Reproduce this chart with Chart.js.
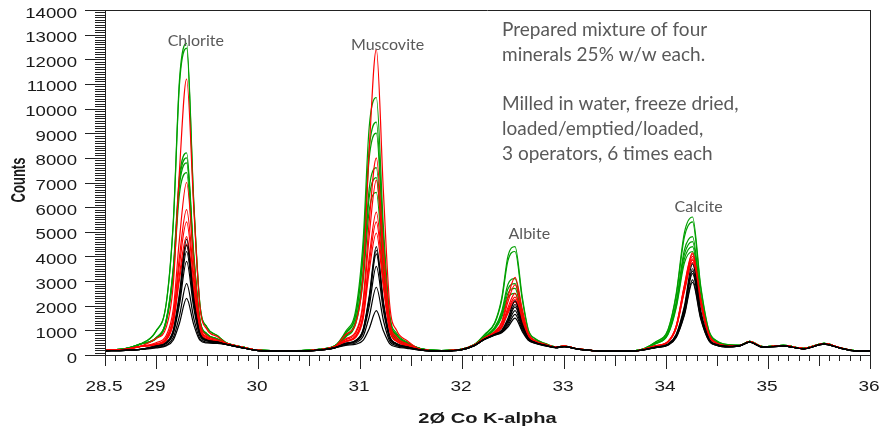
<!DOCTYPE html>
<html>
<head>
<meta charset="utf-8">
<script src="https://cdn.jsdelivr.net/npm/chart.js@4.4.1/dist/chart.umd.min.js"></script>
<style>
  html, body { margin: 0; padding: 0; background: #fff; }
  canvas { display: block; }
</style>
</head>
<body>
<canvas id="xrdChart" width="880" height="427"></canvas>
<script>
// 2theta positions (deg, Co K-alpha) shared by all scans
const twoTheta = [
  28.5, 28.7, 28.85,
  29.0, 29.1, 29.17, 29.23, 29.3, 29.37, 29.43, 29.5, 29.6,
  29.7, 29.85, 30.0, 30.3, 30.6, 30.75,
  30.86, 30.96, 31.03, 31.09, 31.16, 31.23, 31.29, 31.36, 31.46,
  31.6, 31.8, 32.0, 32.12,
  32.22, 32.32, 32.39, 32.45, 32.52, 32.59, 32.65, 32.72, 32.82,
  32.92, 33.0, 33.15, 33.4, 33.7,
  33.9, 34.02, 34.1, 34.18, 34.26, 34.34, 34.42, 34.5, 34.62,
  34.72, 34.82, 34.95, 35.15, 35.35, 35.55, 35.7, 35.85, 36.0
];

// operador 1 (preto) - 6 repeticoes
const operator1Runs = [
  [170,190,230, 360,510,1020,2490,4700,2310,890,610,530, 420,290,180,160,200,290, 470,600,1030,2370,4400,2140,770,460,330, 200,160,220,380, 650,840,1010,1480,2200,1280,690,510,390, 300,340,230,160,170, 320,450,840,1980,3700,1810,670,420,350, 370,520,320,360,250,440,290,170,160],
  [170,190,230, 360,500,980,2370,4450,2200,860,600,520, 420,290,180,160,200,290, 470,590,1010,2300,4250,2070,750,460,330, 200,160,220,380, 640,830,990,1400,2050,1210,670,500,390, 300,340,230,160,170, 320,430,800,1880,3500,1720,650,410,340, 370,520,320,360,250,440,290,170,160],
  [170,190,230, 350,480,930,2240,4200,2090,830,590,520, 420,290,180,160,200,290, 460,580,980,2220,4100,2000,730,450,330, 200,160,220,380, 640,830,970,1350,1950,1170,660,500,380, 300,340,230,160,170, 310,430,780,1830,3400,1670,640,410,340, 370,520,320,360,250,440,290,170,160],
  [170,190,230, 340,460,870,2040,3800,1910,780,570,510, 420,290,180,160,200,290, 450,550,900,1970,3600,1780,670,420,310, 200,160,220,380, 640,820,950,1280,1800,1100,640,490,380, 300,340,230,160,170, 310,420,770,1780,3300,1630,630,400,340, 370,520,320,360,250,440,290,170,160],
  [170,190,230, 310,410,710,1590,2900,1500,670,520,490, 420,290,180,160,200,290, 420,500,750,1550,2750,1390,570,380,290, 200,160,220,380, 630,810,920,1200,1650,1030,620,480,380, 300,340,230,160,170, 300,410,720,1660,3050,1520,600,390,330, 370,520,320,360,250,440,290,170,160],
  [170,190,230, 290,370,610,1290,2300,1230,600,490,470, 420,290,180,160,200,290, 390,440,590,1070,1800,970,460,330,270, 200,160,220,380, 630,800,900,1130,1500,960,600,470,370, 300,340,230,160,170, 300,400,710,1610,2950,1470,580,390,330, 370,520,320,360,250,440,290,170,160]
];

// operador 2 (vermelho)
const operator2Runs = [
  [190,230,350, 670,1120,2890,7480,11200,6000,2000,1040,750, 450,310,190,160,210,330, 830,1320,3240,8300,12400,6580,2090,990,590, 220,170,230,400, 700,950,1350,2350,3150,1880,880,580,430, 320,360,240,160,170, 380,550,1180,2830,4150,2280,840,480,380, 380,540,330,380,260,460,300,180,170],
  [190,230,350, 500,790,1880,4710,7000,3810,1370,790,620, 450,310,190,160,210,330, 660,960,2180,5400,8000,4290,1430,720,460, 220,170,230,400, 690,930,1280,2150,2850,1720,830,560,420, 320,360,240,160,170, 370,550,1170,2790,4100,2260,840,480,380, 380,540,330,380,260,460,300,180,170],
  [190,230,350, 450,700,1610,3990,5900,3240,1200,730,590, 450,310,190,160,210,330, 620,890,1970,4810,7100,3830,1300,670,430, 220,170,230,400, 670,900,1190,1920,2500,1540,780,540,410, 320,360,240,160,170, 370,540,1150,2730,4000,2210,820,470,370, 380,540,330,380,260,460,300,180,170],
  [190,230,350, 430,660,1490,3660,5400,2980,1130,700,570, 450,310,190,160,210,330, 570,790,1660,3950,5800,3150,1100,590,390, 220,170,230,400, 670,890,1160,1820,2350,1460,760,530,400, 320,360,240,160,170, 370,530,1120,2660,3900,2150,810,470,370, 380,540,330,380,260,460,300,180,170],
  [190,230,350, 410,610,1350,3260,4800,2670,1040,660,560, 450,310,190,160,210,330, 550,760,1560,3680,5400,2940,1040,570,380, 220,170,230,400, 660,880,1130,1760,2250,1410,740,530,400, 320,360,240,160,170, 360,530,1110,2630,3850,2130,800,470,370, 380,540,330,380,260,460,300,180,170],
  [190,230,350, 400,590,1280,3060,4500,2510,990,640,550, 450,310,190,160,210,330, 540,720,1450,3390,4950,2710,980,540,370, 220,170,230,400, 660,870,1110,1690,2150,1360,730,520,400, 320,360,240,160,170, 360,520,1090,2560,3750,2080,780,460,370, 380,540,330,380,260,460,300,180,170]
];

// operador 3 (verde)
const operator3Runs = [
  [200,260,450, 970,2100,5460,11160,12650,6260,2090,1130,790, 470,320,200,170,230,360, 960,1870,4600,9240,10450,5160,1700,870,530, 250,180,240,420, 830,1310,2330,4000,4400,2380,1030,660,460, 330,360,240,160,180, 540,1040,2490,4960,5600,2820,1010,570,420, 390,550,340,390,270,470,300,180,170],
  [200,260,450, 960,2070,5370,10980,12450,6160,2060,1120,790, 470,320,200,170,230,360, 900,1720,4180,8360,9450,4680,1560,810,500, 250,180,240,420, 810,1280,2240,3820,4200,2280,1000,640,460, 330,360,240,160,180, 530,1010,2410,4780,5400,2730,980,560,410, 390,550,340,390,270,470,300,180,170],
  [200,260,450, 700,1440,3590,7240,8200,4120,1470,860,660, 470,320,200,170,230,360, 870,1650,3990,7970,9000,4470,1500,780,490, 250,180,240,420, 750,1120,1780,2860,3100,1760,840,580,420, 330,360,240,160,180, 490,920,2160,4260,4800,2440,900,520,400, 390,550,340,390,270,470,300,180,170],
  [200,260,450, 690,1410,3500,7070,8000,4030,1440,850,650, 470,320,200,170,230,360, 790,1440,3400,6740,7600,3790,1300,700,450, 250,180,240,420, 740,1090,1700,2680,2900,1660,820,570,420, 330,360,240,160,180, 480,890,2070,4080,4600,2340,870,510,390, 390,550,340,390,270,470,300,180,170],
  [200,260,450, 680,1380,3420,6890,7800,3930,1410,840,650, 470,320,200,170,230,360, 760,1380,3230,6380,7200,3600,1240,670,440, 250,180,240,420, 720,1060,1610,2500,2700,1560,790,550,410, 330,360,240,160,180, 470,860,1990,3900,4400,2250,840,500,380, 390,550,340,390,270,470,300,180,170],
  [200,260,450, 660,1320,3250,6540,7400,3740,1350,820,630, 470,320,200,170,230,360, 730,1290,2980,5860,6600,3310,1160,640,420, 250,180,240,420, 710,1030,1530,2330,2500,1470,760,540,410, 330,360,240,160,180, 460,830,1910,3730,4200,2150,810,490,380, 390,550,340,390,270,470,300,180,170]
];

const xTickLabels = [28.5, 29, 30, 31, 32, 33, 34, 35, 36];
const yTickLabels = [0, 1000, 2000, 3000, 4000, 5000, 6000, 7000, 8000, 9000, 10000, 11000, 12000, 13000, 14000];
const mineralNames = ['Chlorite', 'Muscovite', 'Albite', 'Calcite'];
const noteLines = [
  'Prepared mixture of four',
  'minerals 25% w/w each.',
  '',
  'Milled in water, freeze dried,',
  'loaded/emptied/loaded,',
  '3 operators, 6 times each'
];

// onde os nomes dos minerais ficam (coordenadas do grafico)
const mineralAnchors = [
  { x: 29.39, y: 12540 },
  { x: 31.27, y: 12380 },
  { x: 32.66, y: 4710 },
  { x: 34.32, y: 5800 }
];

const operatorColors = ['#000000', '#ff0000', '#00a000'];
const axisFont = '"Liberation Sans", Arial, sans-serif';
const noteFont = 'Lato, "Open Sans", sans-serif';

function toPoints(run) {
  return twoTheta.map((x, i) => ({ x: x, y: run[i] }));
}

// preto por cima, depois vermelho, depois verde
const datasets = [];
[operator1Runs, operator2Runs, operator3Runs].forEach((runs, op) => {
  runs.forEach((run, i) => {
    datasets.push({
      label: 'Operator ' + (op + 1) + ' run ' + (i + 1),
      data: toPoints(run),
      borderColor: operatorColors[op],
      borderWidth: 1.2,
      pointRadius: 0,
      fill: false,
      cubicInterpolationMode: 'monotone'
    });
  });
});

function stretchedText(ctx, text, px, py, align, sx) {
  ctx.save();
  ctx.translate(px, py);
  ctx.scale(sx, 1);
  ctx.textAlign = align;
  ctx.textBaseline = 'alphabetic';
  ctx.fillText(text, 0, 0);
  ctx.restore();
}

// eixos desenhados a mao (ticks menores, texto esticado como no original)
const axesPlugin = {
  id: 'axesPlugin',
  afterDraw(chart) {
    const { ctx, chartArea: a, scales: { x, y } } = chart;
    ctx.save();
    ctx.strokeStyle = '#222';
    ctx.lineWidth = 1;
    ctx.beginPath();
    ctx.moveTo(a.left + 0.5, a.top); ctx.lineTo(a.left + 0.5, a.bottom);
    ctx.moveTo(a.left, a.bottom + 0.5); ctx.lineTo(a.right, a.bottom + 0.5);
    ctx.moveTo(a.left, a.top + 0.5); ctx.lineTo(a.right, a.top + 0.5);
    ctx.moveTo(a.right + 0.5, a.top); ctx.lineTo(a.right + 0.5, a.bottom);
    for (let v = 0; v <= 14000; v += 100) {
      const py = Math.round(y.getPixelForValue(v)) + 0.5;
      const len = v % 1000 === 0 ? 20 : 10;
      ctx.moveTo(a.left - len, py); ctx.lineTo(a.left, py);
    }
    for (let i = 285; i <= 360; i++) {
      const px = Math.round(x.getPixelForValue(i / 10)) + 0.5;
      const len = i % 10 === 0 ? 14 : (i % 5 === 0 ? 11 : 6);
      ctx.moveTo(px, a.bottom); ctx.lineTo(px, a.bottom + len);
    }
    ctx.stroke();

    ctx.fillStyle = '#1a1a1a';
    ctx.font = '15px ' + axisFont;
    yTickLabels.forEach(v => {
      stretchedText(ctx, String(v), a.left - 28, y.getPixelForValue(v) + 7.5, 'right', 1.24);
    });
    xTickLabels.forEach(v => {
      stretchedText(ctx, String(v), x.getPixelForValue(v) - 1, a.bottom + 36, 'center', 1.27);
    });

    ctx.font = 'bold 15px ' + axisFont;
    stretchedText(ctx, '2Ø Co K-alpha', (a.left + a.right) / 2, a.bottom + 68, 'center', 1.34);

    ctx.save();
    ctx.translate(25, 180);
    ctx.rotate(-Math.PI / 2);
    ctx.scale(1, 1.5);
    ctx.font = 'bold 13px ' + axisFont;
    ctx.textAlign = 'center';
    ctx.fillText('Counts', 0, 0);
    ctx.restore();

    ctx.fillStyle = '#595959';
    ctx.font = '16px ' + noteFont;
    ctx.textAlign = 'center';
    mineralNames.forEach((name, i) => {
      ctx.fillText(name, x.getPixelForValue(mineralAnchors[i].x), y.getPixelForValue(mineralAnchors[i].y));
    });
    ctx.font = '19px ' + noteFont;
    ctx.textAlign = 'left';
    noteLines.forEach((line, i) => {
      if (line) ctx.fillText(line, 502, 36 + i * 24.8);
    });
    ctx.restore();
  }
};

new Chart(document.getElementById('xrdChart'), {
  type: 'line',
  data: { datasets: datasets },
  options: {
    responsive: false,
    animation: false,
    devicePixelRatio: 1,
    layout: { padding: { top: 10, right: 10, left: 0, bottom: 0 } },
    plugins: {
      legend: { display: false },
      tooltip: { enabled: false }
    },
    scales: {
      x: {
        type: 'linear',
        min: 28.5,
        max: 36,
        ticks: { display: false },
        grid: { display: false },
        border: { display: false },
        afterFit: s => { s.height = 72; }
      },
      y: {
        min: 0,
        max: 14000,
        ticks: { display: false },
        grid: { display: false },
        border: { display: false },
        afterFit: s => { s.width = 105; }
      }
    }
  },
  plugins: [axesPlugin]
});
</script>
</body>
</html>
